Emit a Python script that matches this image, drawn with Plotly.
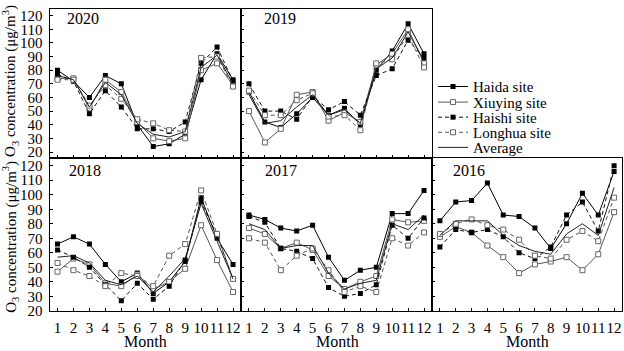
import plotly.graph_objects as go

# ---------------- data ----------------
months = [1, 2, 3, 4, 5, 6, 7, 8, 9, 10, 11, 12]
month_labels = ["1", "2", "3", "4", "5", "6", "7", "8", "9", "10", "11", "12"]
site_names = ["Haida site", "Xiuying site", "Haishi site", "Longhua site", "Average"]
year_labels = ["2020", "2019", "2018", "2017", "2016"]
y_ticks = [20, 30, 40, 50, 60, 70, 80, 90, 100, 110, 120]

haida_2020 = [80, 72, 60, 76, 70, 40, 24, 26, 33, 73, 92, 73]
xiuying_2020 = [74, 74, 52, 73, 64, 42, 30, 28, 30, 80, 85, 69]
haishi_2020 = [77, 72, 48, 65, 53, 37, 37, 35, 42, 85, 97, 72]
longhua_2020 = [73, 73, 54, 69, 59, 44, 41, 36, 35, 89, 90, 68]
average_2020 = [76, 73, 53, 71, 62, 41, 33, 31, 35, 82, 91, 70]

haida_2019 = [64, 42, 38, 48, 60, 47, 52, 40, 80, 94, 114, 92]
xiuying_2019 = [50, 27, 37, 62, 64, 43, 49, 42, 84, 92, 110, 85]
haishi_2019 = [70, 50, 50, 44, 61, 51, 57, 47, 76, 81, 102, 89]
longhua_2019 = [65, 47, 47, 58, 63, 46, 47, 36, 85, 88, 106, 82]
average_2019 = [62, 41, 43, 53, 62, 47, 51, 41, 81, 89, 108, 87]

haida_2018 = [66, 71, 66, 52, 40, 46, 32, 40, 54, 98, 70, 52]
xiuying_2018 = [47, 56, 52, 39, 37, 45, 35, 40, 49, 79, 55, 33]
haishi_2018 = [62, 57, 50, 38, 27, 39, 28, 37, 55, 95, 72, 42]
longhua_2018 = [53, 48, 44, 37, 46, 44, 37, 58, 66, 103, 73, 42]
average_2018 = [57, 58, 53, 41, 38, 44, 33, 44, 56, 94, 68, 42]

haida_2017 = [86, 83, 77, 75, 79, 57, 41, 48, 50, 87, 87, 103]
xiuying_2017 = [77, 73, 63, 67, 62, 44, 35, 40, 44, 83, 81, 82]
haishi_2017 = [85, 81, 63, 61, 56, 36, 30, 32, 38, 79, 70, 84]
longhua_2017 = [70, 67, 48, 58, 63, 48, 33, 37, 33, 70, 65, 74]
average_2017 = [80, 76, 63, 65, 65, 46, 35, 39, 41, 80, 76, 86]

haida_2016 = [82, 95, 96, 108, 86, 85, 77, 63, 80, 101, 86, 116]
xiuying_2016 = [71, 78, 74, 65, 57, 46, 52, 54, 57, 48, 59, 88]
haishi_2016 = [64, 76, 74, 76, 71, 60, 56, 64, 86, 95, 75, 120]
longhua_2016 = [73, 80, 83, 79, 76, 69, 58, 56, 69, 75, 68, 98]
average_2016 = [72, 82, 82, 82, 72, 65, 61, 59, 73, 80, 72, 105]

panel_series = [
    [haida_2020, xiuying_2020, haishi_2020, longhua_2020, average_2020],
    [haida_2019, xiuying_2019, haishi_2019, longhua_2019, average_2019],
    [haida_2018, xiuying_2018, haishi_2018, longhua_2018, average_2018],
    [haida_2017, xiuying_2017, haishi_2017, longhua_2017, average_2017],
    [haida_2016, xiuying_2016, haishi_2016, longhua_2016, average_2016],
]

# ---------------- layout geometry ----------------
W, H = 624, 351
FONT = "Liberation Serif, Times New Roman, serif"
cols = [(49.5, 241), (241, 432), (432, 622)]
rows = [(8, 161), (161, 318)]
row_ranges = [(15.7, 125.0), (20, 125.4)]
# (col, row) per panel
panel_pos = [(0, 0), (1, 0), (0, 1), (1, 1), (2, 1)]
year_pos = [(65, 18), (262, 18), (67, 174), (263, 174), (451, 174)]

styles = [
    dict(mode="lines+markers", line=dict(color="#000000", width=1),
         marker=dict(symbol="square", size=5, color="#000000")),
    dict(mode="lines+markers", line=dict(color="#555555", width=1),
         marker=dict(symbol="square", size=5, color="white",
                     line=dict(color="#666666", width=1))),
    dict(mode="lines+markers", line=dict(color="#111111", width=1, dash="4px,3px"),
         marker=dict(symbol="square", size=5, color="#000000")),
    dict(mode="lines+markers", line=dict(color="#555555", width=1, dash="4px,3px"),
         marker=dict(symbol="square", size=5, color="white",
                     line=dict(color="#666666", width=1))),
    dict(mode="lines", line=dict(color="#222222", width=1)),
]

fig = go.Figure()
layout = dict(
    width=W, height=H,
    margin=dict(l=0, r=0, t=0, b=0),
    paper_bgcolor="white", plot_bgcolor="white",
    font=dict(family=FONT, size=15, color="black"),
    showlegend=True,
)

for p, series in enumerate(panel_series):
    c, r = panel_pos[p]
    k = p + 1
    xname = "x" if k == 1 else f"x{k}"
    yname = "y" if k == 1 else f"y{k}"
    for s, vals in enumerate(series):
        leg = "legend" if s == 0 else f"legend{s + 1}"
        fig.add_trace(go.Scatter(
            x=months, y=vals, name=site_names[s], xaxis=xname, yaxis=yname,
            showlegend=(p == 0), legend=leg, **styles[s]))
    x0, x1 = cols[c]
    y0, y1 = rows[r]
    layout[f"xaxis{k}" if k > 1 else "xaxis"] = dict(
        domain=[x0 / W, x1 / W], anchor=yname, range=[0.5, 12.5],
        tickmode="array", tickvals=months, ticktext=month_labels,
        tickangle=0, ticklabelstandoff=3,
        showticklabels=(r == 1), ticks="inside", ticklen=3, tickcolor="black",
        showline=True, mirror=True, linecolor="black", linewidth=1,
        showgrid=False, zeroline=False,
        tickfont=dict(family=FONT, size=15, color="black"))
    layout[f"yaxis{k}" if k > 1 else "yaxis"] = dict(
        domain=[1 - y1 / H, 1 - y0 / H], anchor=xname, range=list(row_ranges[r]),
        tickmode="array", tickvals=y_ticks, ticklabelstandoff=3,
        showticklabels=(c == 0), ticks="inside", ticklen=3, tickcolor="black",
        showline=True, mirror=True, linecolor="black", linewidth=1,
        showgrid=False, zeroline=False,
        tickfont=dict(family=FONT, size=15, color="black"))

# legends: one per entry so spacing can match the reference
legend_y = [88, 104, 119.5, 135, 150.5]
for s, yc in enumerate(legend_y):
    key = "legend" if s == 0 else f"legend{s + 1}"
    layout[key] = dict(
        x=433 / W, xanchor="left", y=1 - yc / H, yanchor="middle",
        font=dict(family=FONT, size=15, color="black"),
        bgcolor="rgba(0,0,0,0)", borderwidth=0, itemwidth=30,
        tracegroupgap=0)

annotations = []
for p, (xp, yp) in enumerate(year_pos):
    annotations.append(dict(
        text=year_labels[p], x=xp / W, y=1 - yp / H, xref="paper", yref="paper",
        xanchor="left", yanchor="middle", showarrow=False,
        font=dict(family=FONT, size=16, color="black")))
for xc in [145, 337, 527]:
    annotations.append(dict(
        text="Month", x=xc / W, y=0, xref="paper", yref="paper",
        xanchor="center", yanchor="bottom", yshift=-9, showarrow=False,
        font=dict(family=FONT, size=16, color="black")))
for yc in [82, 242]:
    annotations.append(dict(
        text="O<sub>3</sub> concentration (\u03bcg/m<sup>3</sup>)",
        x=10 / W, y=1 - yc / H, xref="paper", yref="paper",
        xanchor="center", yanchor="middle", textangle=-90, showarrow=False,
        font=dict(family=FONT, size=15, color="black")))
layout["annotations"] = annotations

fig.update_layout(**layout)
fig.write_html("out.html")
